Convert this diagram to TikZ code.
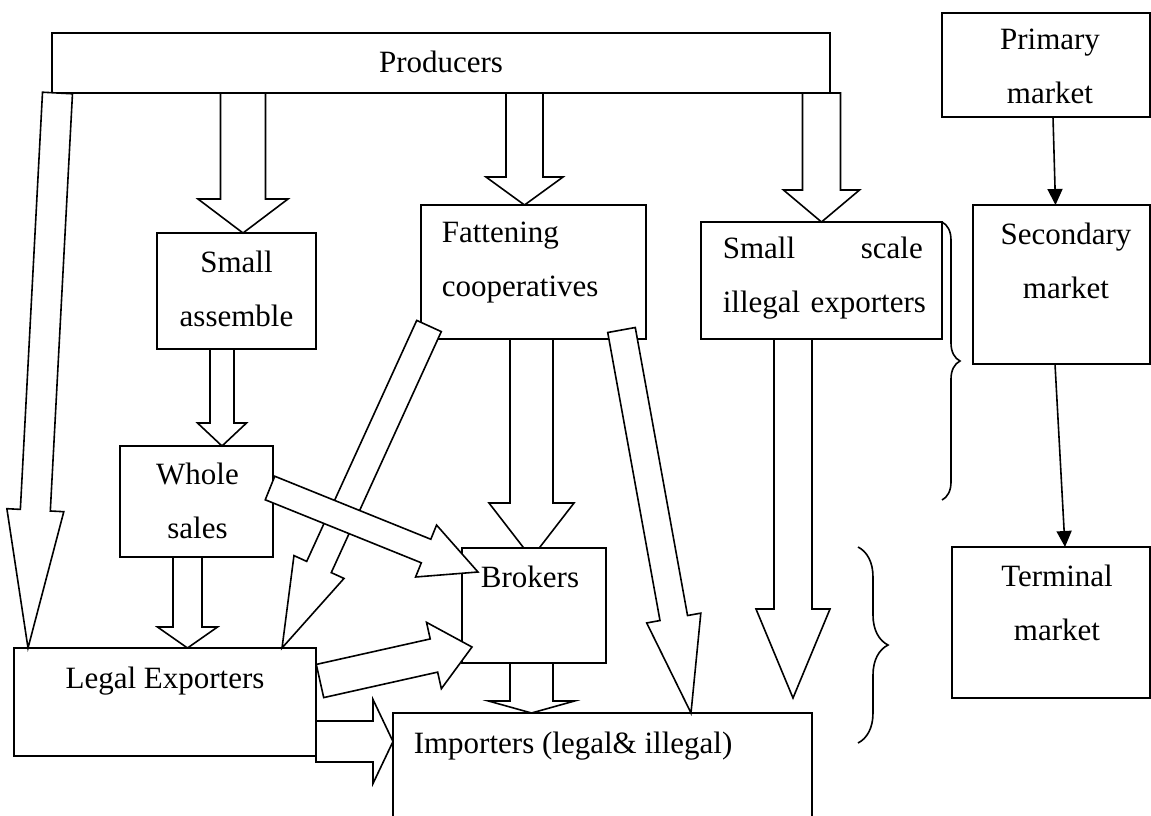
\documentclass[tikz,border=0pt]{standalone}
\usepackage{fontspec}
\setmainfont{Liberation Serif}
\usetikzlibrary{arrows.meta,calc,decorations.pathreplacing}

\begin{document}
\begin{tikzpicture}[x=1pt, y=-1pt, line width=1.6pt, >={Triangle[length=16pt,width=15pt]},
  box/.style={draw, fill=white, inner sep=0pt, outer sep=0pt, anchor=north west},
  txt/.style={inner sep=0pt, anchor=base, align=center, font=\fontsize{31}{54}\selectfont},
  hollow/.style n args={3}{draw, fill=white, to path={
      let \p1=(\tikztostart), \p2=(\tikztotarget),
          \n1={atan2(\y2-\y1,\x2-\x1)}, \n2={veclen(\x2-\x1,\y2-\y1)} in
      [shift={(\p1)}, rotate=\n1]
      (0,#1) -- (\n2-#3,#1) -- (\n2-#3,#2) -- (\n2,0)
      -- (\n2-#3,-#2) -- (\n2-#3,-#1) -- (0,-#1) -- cycle}},
  brc/.style={decorate, decoration={brace, amplitude=#1}}]
	 \path[use as bounding box, clip] (0,0) rectangle (1151,815);

	 % boxes
	 \node[box, minimum width=778pt, minimum height=60pt] (prod) at (52,33) {};
	 \node[box, minimum width=208pt, minimum height=104pt] (prim) at (942,13) {};
	 \node[box, minimum width=177pt, minimum height=159pt] (sec) at (973,205) {};
	 \node[box, minimum width=198pt, minimum height=151pt] (term) at (952,547) {};
	 \node[box, minimum width=241pt, minimum height=117pt] (small) at (701,222) {};
	 \node[box, minimum width=225pt, minimum height=134pt] (fatt) at (421,205) {};
	 \node[box, minimum width=159pt, minimum height=116pt] (asm) at (157,233) {};
	 \node[box, minimum width=153pt, minimum height=111pt] (whole) at (120,446) {};
	 \node[box, minimum width=302pt, minimum height=108pt] (legal) at (14,648) {};
	 \node[box, minimum width=419pt, minimum height=130pt] (imp) at (393,713) {};

	 % texts sit on the baseline of their last line (first line with a text width)
	 \node[txt] (prodT) at ([yshift=-39pt]prod.north) {Producers};
	 \node[txt] (primT) at ([xshift=4pt,yshift=-90pt]prim.north) {Primary\\market};
	 \node[txt] (secT) at ([xshift=4.5pt,yshift=-93pt]sec.north) {Secondary\\market};
	 \node[txt] (termT) at ([xshift=6pt,yshift=-93pt]term.north) {Terminal\\market};
	 \node[txt, anchor=base west, align=left, text width=200pt] (smallT)
	   at ([xshift=21pt,yshift=-36pt]small.north west) {Small\hfill scale\\\mbox{illegal exporters}};
	 \node[txt, anchor=base west, align=left] (fattT)
	   at ([xshift=20pt,yshift=-91pt]fatt.north west) {Fattening\\cooperatives};
	 \node[txt] (asmT) at ([yshift=-93pt]asm.north) {Small\\assemble};
	 \node[txt] (wholeT) at ([xshift=1pt,yshift=-92pt]whole.north) {Whole\\sales};
	 \node[txt] (legalT) at ([yshift=-40pt]legal.north) {Legal Exporters};
	 \node[txt, anchor=base west] (impT)
	   at ([xshift=20pt,yshift=-40pt]imp.north west) {Importers (legal\& illegal)};

	 % flows out of the producers
	 \draw[hollow={22.5}{45}{34}] ([xshift=-198pt]prod.south) to ([xshift=6.5pt]asm.north);
	 \draw[hollow={18.5}{38.5}{28}] ([xshift=83.5pt]prod.south) to ([xshift=-9pt]fatt.north);
	 \draw[hollow={19}{38}{32}] (small.north |- prod.south) to (small.north);
	 \draw[hollow={15}{28.5}{138}] ([xshift=5.5pt]prod.south west) to ([xshift=14pt]legal.north west);

	 \draw[hollow={12}{24.5}{23}] ([xshift=-14.5pt]asm.south) to ([xshift=25.5pt]whole.north);
	 \draw[hollow={14.5}{30}{21}] ([xshift=-9pt]whole.south) to ([xshift=22.5pt]legal.north);

	 % its head runs under the brokers box
	 \coordinate (fbTip) at (531.5,558);
	 \draw[hollow={21.5}{42.5}{55}] ([xshift=-2pt]fatt.south) to (fbTip);

	 \node[box, minimum width=144pt, minimum height=115pt] (brok) at (462,548) {};
	 \node[txt] (brokT) at ([xshift=-4pt,yshift=-39pt]brok.north) {Brokers};

	 \draw[hollow={13.5}{27.5}{89}] ([xshift=8pt,yshift=13pt]fatt.south west) to ([xshift=117pt]legal.north);
	 \draw[hollow={14}{27.5}{96.5}] ([xshift=-24.5pt,yshift=9pt]fatt.south east) to ([xshift=88.5pt]imp.north);
	 \draw[hollow={12.7}{28}{56}] ([xshift=-3pt,yshift=13.5pt]whole.east) to ([xshift=16pt,yshift=33.5pt]brok.west);
	 \draw[hollow={17}{34}{39}] ([xshift=4pt,yshift=21pt]legal.east) to ([xshift=10pt,yshift=-41.5pt]brok.west);
	 \draw[hollow={21.5}{43}{12}] ([xshift=-2.5pt]brok.south) to ([xshift=-71pt]imp.north);
	 \draw[hollow={20.5}{42}{20}] ([yshift=-39.5pt]legal.east) to ([yshift=-28.5pt]imp.north west);

	 \coordinate (illEnd) at (793,698);
	 \draw[hollow={19}{37}{89}] ([xshift=-28.5pt]small.south) to (illEnd);

	 % market levels
	 \draw[->] ([xshift=7pt]prim.south) -- ([xshift=-6pt]sec.north);
	 \draw[->] ([xshift=-6.5pt]sec.south) -- ([xshift=14pt]term.north);

	 \coordinate (brA) at (942,500);
	 \coordinate (brB1) at (858,547);
	 \coordinate (brB2) at (858,743);
	 \draw[brc=18pt] (small.north east) -- (brA);
	 \draw[brc=30pt] (brB1) -- (brB2);
\end{tikzpicture}
\end{document}
